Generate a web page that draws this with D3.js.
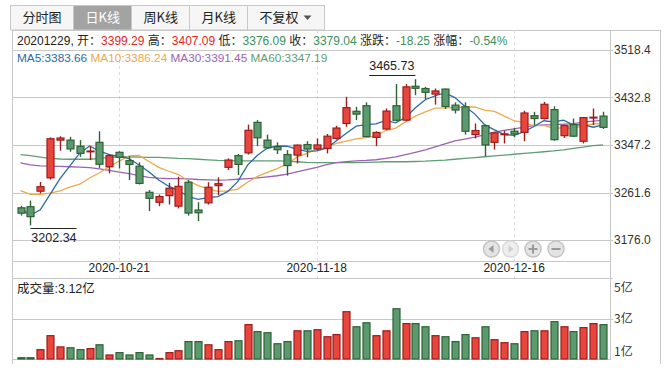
<!DOCTYPE html>
<html lang="zh">
<head>
    <meta charset="UTF-8">
    <title>日K线</title>
    <style>
        body {
            margin: 0;
            background: #fff;
        }
        svg {
            display: block;
            font-family: "Liberation Sans", Arial, "Noto Sans CJK SC", sans-serif;
        }
        .grid { stroke: #c8c8c8; stroke-width: 1; shape-rendering: crispEdges; }
        .frame { stroke: #c8c8c8; stroke-width: 1; fill: none; shape-rendering: crispEdges; }
        .axis-label { font-size: 12px; fill: #333; }
    </style>
    <script src="https://d3js.org/d3.v7.min.js"></script>
</head>
<body>
<svg width="670" height="373"></svg>

<script>
    // 交易日
    const dates = [
        "2020-09-29", "2020-09-30", "2020-10-09", "2020-10-12", "2020-10-13", "2020-10-14", "2020-10-15", "2020-10-16",
        "2020-10-19", "2020-10-20", "2020-10-21", "2020-10-22", "2020-10-23", "2020-10-26", "2020-10-27", "2020-10-28",
        "2020-10-29", "2020-10-30", "2020-11-02", "2020-11-03", "2020-11-04", "2020-11-05", "2020-11-06", "2020-11-09",
        "2020-11-10", "2020-11-11", "2020-11-12", "2020-11-13", "2020-11-16", "2020-11-17", "2020-11-18", "2020-11-19",
        "2020-11-20", "2020-11-23", "2020-11-24", "2020-11-25", "2020-11-26", "2020-11-27", "2020-11-30", "2020-12-01",
        "2020-12-02", "2020-12-03", "2020-12-04", "2020-12-07", "2020-12-08", "2020-12-09", "2020-12-10", "2020-12-11",
        "2020-12-14", "2020-12-15", "2020-12-16", "2020-12-17", "2020-12-18", "2020-12-21", "2020-12-22", "2020-12-23",
        "2020-12-24", "2020-12-25", "2020-12-28", "2020-12-29"
    ];

    const open = [
        3234.0, 3236.0, 3264.0, 3288.0, 3356.0, 3356.0, 3345.0, 3336.0, 3352.0, 3308.0,
        3334.0, 3319.0, 3309.0, 3262.0, 3244.0, 3256.0, 3237.0, 3280.0, 3230.0, 3243.0,
        3274.0, 3307.0, 3328.0, 3333.0, 3388.0, 3356.0, 3344.0, 3330.0, 3329.0, 3348.0,
        3340.0, 3341.0, 3359.0, 3386.0, 3408.0, 3418.0, 3361.0, 3376.0, 3418.0, 3392.0,
        3453.0, 3449.0, 3439.0, 3448.0, 3419.0, 3416.0, 3366.0, 3382.0, 3352.0, 3366.0,
        3372.0, 3370.0, 3400.0, 3395.0, 3411.0, 3364.0, 3384.0, 3354.0, 3396.0, 3399.29
    ];
    const high = [
        3237.5, 3247.0, 3280.5, 3361.0, 3363.0, 3362.0, 3356.0, 3345.0, 3372.0, 3331.0,
        3336.0, 3327.0, 3316.0, 3266.0, 3258.0, 3279.0, 3290.0, 3284.0, 3244.0, 3280.0,
        3289.0, 3323.0, 3331.0, 3384.0, 3392.0, 3366.0, 3352.0, 3338.0, 3348.0, 3354.0,
        3359.0, 3367.0, 3382.0, 3434.0, 3416.0, 3424.0, 3372.0, 3413.0, 3457.0, 3457.0,
        3465.73, 3452.0, 3449.0, 3449.0, 3424.0, 3424.0, 3386.0, 3384.0, 3370.0, 3373.0,
        3378.0, 3409.0, 3407.0, 3425.0, 3417.0, 3384.0, 3395.0, 3397.0, 3413.0, 3407.09
    ];
    const low = [
        3220.0, 3202.34, 3260.0, 3285.0, 3337.0, 3335.0, 3326.0, 3320.0, 3306.0, 3296.0,
        3305.0, 3284.0, 3276.0, 3228.0, 3237.0, 3240.0, 3233.0, 3220.0, 3210.0, 3240.0,
        3257.0, 3302.0, 3293.0, 3330.0, 3345.0, 3340.0, 3331.0, 3292.0, 3314.0, 3325.0,
        3338.0, 3332.0, 3357.0, 3380.0, 3392.0, 3362.0, 3345.0, 3374.0, 3390.0, 3390.0,
        3437.0, 3430.0, 3420.0, 3412.0, 3404.0, 3366.0, 3359.0, 3327.0, 3339.0, 3350.0,
        3361.0, 3354.0, 3383.0, 3393.0, 3355.0, 3360.0, 3362.0, 3350.0, 3383.0, 3376.09
    ];
    const close = [
        3224.36, 3218.05, 3272.08, 3358.47, 3359.75, 3340.16, 3332.18, 3336.36, 3312.50, 3328.10,
        3325.03, 3312.16, 3278.00, 3251.12, 3254.32, 3269.24, 3272.74, 3224.53, 3225.12, 3271.07,
        3277.44, 3320.13, 3312.16, 3373.73, 3360.15, 3342.20, 3338.68, 3310.10, 3346.97, 3339.90,
        3347.30, 3363.09, 3377.73, 3414.49, 3402.82, 3362.33, 3369.73, 3408.31, 3391.76, 3451.94,
        3449.38, 3442.14, 3444.58, 3416.60, 3410.18, 3371.96, 3373.28, 3347.19, 3369.12, 3367.23,
        3366.98, 3404.87, 3394.90, 3420.57, 3356.78, 3382.32, 3363.11, 3396.56, 3397.29, 3379.04
    ];

    // 成交量（亿）
    const volume = [
        1.56, 1.56, 1.94, 2.60, 2.07, 2.03, 1.94, 1.99, 2.17, 1.69,
        1.80, 1.69, 1.80, 1.69, 1.52, 1.80, 1.89, 2.32, 2.32, 2.17,
        1.94, 2.32, 2.36, 3.12, 2.79, 2.74, 2.22, 2.32, 2.83, 2.83,
        2.88, 2.55, 2.65, 3.73, 3.02, 3.21, 2.60, 2.83, 3.87, 3.17,
        3.17, 3.02, 2.60, 2.55, 2.32, 2.65, 2.50, 3.02, 2.41, 2.27,
        2.22, 2.79, 2.83, 2.83, 3.26, 3.02, 2.79, 2.98, 3.17, 3.12
    ];

    const ma5 = [
        3232.84, 3220.51, 3230.29, 3258.10, 3286.54, 3309.70, 3332.53, 3345.38, 3336.19, 3329.86,
        3326.83, 3322.83, 3311.16, 3298.88, 3284.13, 3272.97, 3265.08, 3254.39, 3249.19, 3252.54,
        3254.18, 3263.66, 3281.18, 3310.91, 3328.72, 3341.67, 3345.38, 3344.97, 3339.62, 3335.57,
        3336.59, 3341.47, 3355.00, 3368.50, 3381.09, 3384.09, 3385.42, 3391.54, 3386.99, 3396.81,
        3414.22, 3428.71, 3435.96, 3440.93, 3432.58, 3417.09, 3403.32, 3383.84, 3374.35, 3365.76,
        3364.76, 3371.08, 3380.62, 3390.91, 3388.82, 3391.89, 3383.54, 3383.87, 3379.21, 3383.66
    ];
    const ma10 = [
        3264.79, 3258.20, 3258.37, 3260.40, 3264.69, 3271.27, 3276.52, 3287.84, 3297.14, 3308.20,
        3318.27, 3327.68, 3328.27, 3317.54, 3306.99, 3299.90, 3293.96, 3282.77, 3274.04, 3268.33,
        3263.57, 3264.37, 3267.79, 3280.05, 3290.63, 3297.93, 3304.52, 3313.08, 3325.26, 3332.15,
        3339.13, 3343.43, 3349.99, 3354.06, 3358.33, 3360.34, 3363.45, 3373.27, 3377.75, 3388.95,
        3399.16, 3407.06, 3413.75, 3413.96, 3414.70, 3415.66, 3416.01, 3409.90, 3407.64, 3399.17,
        3390.93, 3387.20, 3382.23, 3382.63, 3377.29, 3378.32, 3377.31, 3382.24, 3385.06, 3386.24
    ];
    const ma30 = [
        3315.0, 3311.5, 3309.5, 3309.0, 3308.5, 3308.0, 3307.5, 3306.5, 3304.0, 3301.5,
        3298.5, 3295.5, 3292.0, 3289.0, 3287.5, 3286.5, 3286.5, 3286.0, 3285.0, 3284.5,
        3284.0, 3284.5, 3285.5, 3286.5, 3287.8, 3289.9, 3291.8, 3294.6, 3298.8, 3302.89,
        3306.99, 3311.83, 3315.35, 3317.22, 3318.65, 3319.39, 3320.64, 3323.04, 3325.68, 3329.81,
        3333.95, 3338.29, 3343.84, 3349.36, 3354.55, 3357.98, 3361.33, 3365.42, 3370.22, 3373.42,
        3376.41, 3379.23, 3381.99, 3383.55, 3383.44, 3384.77, 3385.59, 3388.47, 3390.15, 3391.45
    ];
    const ma60 = [
        3330.0, 3328.0, 3325.5, 3323.0, 3322.0, 3321.5, 3321.5, 3321.5, 3323.0, 3325.0,
        3326.0, 3326.0, 3325.5, 3325.0, 3325.0, 3324.0, 3323.0, 3322.5, 3321.5, 3320.5,
        3319.5, 3319.0, 3318.5, 3318.5, 3318.5, 3318.5, 3318.5, 3318.0, 3317.0, 3316.0,
        3315.5, 3315.5, 3315.5, 3315.5, 3315.5, 3316.0, 3316.5, 3317.0, 3317.0, 3317.0,
        3317.5, 3318.0, 3319.0, 3320.0, 3321.5, 3323.0, 3324.5, 3326.0, 3327.5, 3329.0,
        3330.5, 3332.0, 3333.5, 3335.0, 3336.5, 3338.5, 3341.0, 3343.5, 3346.0, 3347.19
    ];

    const priceTicks = [3518.4, 3432.8, 3347.2, 3261.6, 3176.0];
    const volTickLabels = ["5亿", "3亿", "1亿"];
    const dateTicks = ["2020-10-21", "2020-11-18", "2020-12-16"];
    const tabs = ["分时图", "日K线", "周K线", "月K线", "不复权"];
    const activeTab = "日K线";

    const UP = "#e8453c", UP_LINE = "#9b1d1d";
    const DOWN = "#5b9a6e", DOWN_LINE = "#2d6233";
    const TXT_UP = "#e3261f", TXT_DOWN = "#3d8f5e";
    const maLines = [
        { name: "MA5", values: ma5, color: "#2b6aa3" },
        { name: "MA10", values: ma10, color: "#eda94d" },
        { name: "MA30", values: ma30, color: "#9d62b3" },
        { name: "MA60", values: ma60, color: "#5f9e74" }
    ];

    const svg = d3.select("svg");

    // 布局
    const left = 12, right = 610, outerRight = 660;
    const infoTop = 30;
    const priceTop = 50, priceBottom = 261;
    const volTop = 278, volBottom = 359;

    const x = d3.scalePoint().domain(dates).range([20.5, 603]);
    const bodyW = 7;

    const y = d3.scaleLinear().domain([3176.0, 3518.4]).range([240, priceTop]);
    const yv = d3.scaleLinear().domain([1.5, 5.32]).range([volBottom, volTop]);

    // 选项卡
    const tabG = svg.append("g").attr("font-family", "'Noto Sans CJK SC', sans-serif").attr("font-size", 13);
    let tx = 10;
    tabs.forEach(t => {
        const g = tabG.append("g");
        const isActive = t === activeTab;
        const rect = g.append("rect")
            .attr("y", 5.5).attr("height", 24.5)
            .attr("fill", isActive ? "#a3a3a3" : "#f6f6f6")
            .attr("stroke", "#c8c8c8");
        const label = g.append("text")
            .attr("y", 18).attr("dominant-baseline", "middle")
            .attr("fill", isActive ? "#fff" : "#222")
            .text(t);
        const w = label.node().getComputedTextLength();
        const extra = t === "不复权" ? 14 : 0;
        const tabW = Math.round(w + 24 + extra);
        rect.attr("x", tx + 0.5).attr("width", tabW);
        label.attr("x", tx + 12.5);
        if (extra) {
            const ax = tx + 12.5 + w + 5;
            g.append("path")
                .attr("d", `M${ax},15.5 L${ax + 8},15.5 L${ax + 4},20 Z`)
                .attr("fill", "#555");
        }
        tx += tabW;
    });

    // 外框
    svg.append("line").attr("class", "frame").attr("x1", left).attr("x2", outerRight).attr("y1", infoTop + 0.5).attr("y2", infoTop + 0.5);
    svg.append("line").attr("class", "frame").attr("x1", left + 0.5).attr("x2", left + 0.5).attr("y1", infoTop).attr("y2", 364);
    svg.append("line").attr("class", "frame").attr("x1", right + 0.5).attr("x2", right + 0.5).attr("y1", infoTop).attr("y2", volBottom + 1);
    svg.append("line").attr("class", "frame").attr("x1", outerRight + 0.5).attr("x2", outerRight + 0.5).attr("y1", infoTop).attr("y2", 364);

    // 日期虚线
    svg.append("g").selectAll("line")
        .data(dateTicks)
        .enter().append("line")
        .attr("x1", d => Math.round(x(d)) + 0.5).attr("x2", d => Math.round(x(d)) + 0.5)
        .attr("y1", infoTop).attr("y2", volTop)
        .attr("stroke", "#dcdcdc").attr("stroke-dasharray", "3,3");

    // 价格网格和刻度
    svg.append("g").selectAll("line")
        .data(priceTicks)
        .enter().append("line")
        .attr("class", "grid")
        .attr("x1", left).attr("x2", right + 3)
        .attr("y1", d => Math.round(y(d)) + 0.5).attr("y2", d => Math.round(y(d)) + 0.5);
    svg.append("g").selectAll("text")
        .data(priceTicks)
        .enter().append("text")
        .attr("class", "axis-label")
        .attr("x", right + 4).attr("y", d => y(d) + 1)
        .attr("dominant-baseline", "middle")
        .text(d => d.toFixed(1));

    svg.append("line").attr("class", "grid").attr("x1", left).attr("x2", right)
        .attr("y1", priceBottom + 0.5).attr("y2", priceBottom + 0.5);

    // 成交量网格
    const volLines = [volTop, (volTop + volBottom) / 2, volBottom];
    svg.append("g").selectAll("line")
        .data(volLines)
        .enter().append("line")
        .attr("class", "grid")
        .attr("x1", left).attr("x2", (d, i) => i < 2 ? right + 3 : right)
        .attr("y1", d => Math.round(d) + 0.5).attr("y2", d => Math.round(d) + 0.5);
    svg.append("g").selectAll("text")
        .data(volTickLabels)
        .enter().append("text")
        .attr("class", "axis-label")
        .attr("font-family", "'Noto Sans CJK SC', sans-serif")
        .attr("x", right + 4)
        .attr("y", (d, i) => [volTop + 11, (volTop + volBottom) / 2 + 1, volBottom - 6][i])
        .attr("dominant-baseline", "middle")
        .text(d => d);

    // 日期标签
    svg.append("g").selectAll("text")
        .data(dateTicks)
        .enter().append("text")
        .attr("x", d => x(d)).attr("y", 269)
        .attr("text-anchor", "middle").attr("dominant-baseline", "middle")
        .attr("font-size", 12).attr("fill", "#222")
        .text(d => d);

    // 信息栏
    const last = dates.length - 1;
    const chg = close[last] - close[last - 1];
    const pct = chg / close[last - 1] * 100;
    const chgColor = chg >= 0 ? TXT_UP : TXT_DOWN;
    const colorOf = v => v >= close[last - 1] ? TXT_UP : TXT_DOWN;
    const infoParts = [
        [dates[last].replace(/-/g, "") + ", 开：", "#222"],
        [open[last].toFixed(2), colorOf(open[last])],
        [" 高：", "#222"],
        [high[last].toFixed(2), colorOf(high[last])],
        [" 低：", "#222"],
        [low[last].toFixed(2), colorOf(low[last])],
        [" 收：", "#222"],
        [close[last].toFixed(2), colorOf(close[last])],
        [" 涨跌：", "#222"],
        [chg.toFixed(2), chgColor],
        [" 涨幅：", "#222"],
        [pct.toFixed(2) + "%", chgColor]
    ];
    const info = svg.append("text")
        .attr("x", 17).attr("y", 42)
        .attr("dominant-baseline", "middle")
        .attr("font-size", 12)
        .attr("xml:space", "preserve");
    info.selectAll("tspan")
        .data(infoParts)
        .enter().append("tspan")
        .attr("fill", d => d[1])
        .text(d => d[0]);

    // 均线图例
    const legend = svg.append("text")
        .attr("x", 17).attr("y", 59)
        .attr("dominant-baseline", "middle")
        .attr("font-size", 11.8)
        .attr("xml:space", "preserve");
    legend.selectAll("tspan")
        .data(maLines)
        .enter().append("tspan")
        .attr("fill", d => d.color)
        .text((d, i) => (i ? " " : "") + d.name + ":" + d.values[last].toFixed(2));

    // 均线
    maLines.slice().reverse().forEach(m => {
        svg.append("path")
            .datum(m.values)
            .attr("fill", "none")
            .attr("stroke", m.color)
            .attr("stroke-width", 1.3)
            .attr("d", d3.line().x((d, i) => x(dates[i])).y(d => y(d)));
    });

    // K线
    const candles = dates.map((d, i) => ({
        date: d, o: open[i], h: high[i], l: low[i], c: close[i], v: volume[i], up: close[i] >= open[i]
    }));

    const kG = svg.append("g");
    kG.selectAll("line")
        .data(candles)
        .enter().append("line")
        .attr("x1", d => Math.round(x(d.date)) + 0.5).attr("x2", d => Math.round(x(d.date)) + 0.5)
        .attr("y1", d => y(d.h)).attr("y2", d => y(d.l))
        .attr("stroke", d => d.up ? UP_LINE : DOWN_LINE)
        .attr("stroke-width", 1.4);
    kG.selectAll("rect")
        .data(candles)
        .enter().append("rect")
        .attr("x", d => Math.round(x(d.date)) - bodyW / 2 + 0.5)
        .attr("width", bodyW)
        .attr("y", d => y(Math.max(d.o, d.c)))
        .attr("height", d => Math.max(0.8, Math.abs(y(d.o) - y(d.c))))
        .attr("fill", d => d.up ? UP : DOWN)
        .attr("stroke", d => d.up ? UP_LINE : DOWN_LINE)
        .attr("stroke-width", 1.2);

    // 最高/最低价标注
    const hiIdx = d3.maxIndex(high), loIdx = d3.minIndex(low);
    const hiX = x(dates[hiIdx]), loX = x(dates[loIdx]);
    const hiText = svg.append("text")
        .attr("x", hiX - 1).attr("y", y(high[hiIdx]) - 9)
        .attr("text-anchor", "end").attr("font-size", 12.5).attr("fill", "#222")
        .text(high[hiIdx].toFixed(2));
    const hiW = hiText.node().getComputedTextLength();
    svg.append("line")
        .attr("x1", hiX - hiW - 1).attr("x2", hiX)
        .attr("y1", Math.round(y(high[hiIdx]) - 4) + 0.5).attr("y2", Math.round(y(high[hiIdx]) - 4) + 0.5)
        .attr("stroke", "#222");
    const loText = svg.append("text")
        .attr("x", loX + 1).attr("y", y(low[loIdx]) + 17)
        .attr("font-size", 12.5).attr("fill", "#222")
        .text(low[loIdx].toFixed(2));
    const loW = loText.node().getComputedTextLength();
    svg.append("line")
        .attr("x1", loX).attr("x2", loX + loW + 1)
        .attr("y1", Math.round(y(low[loIdx]) + 3) + 0.5).attr("y2", Math.round(y(low[loIdx]) + 3) + 0.5)
        .attr("stroke", "#222");

    // 翻页按钮
    const btns = [
        { cx: 491.5, kind: "prev", on: true },
        { cx: 510.5, kind: "next", on: false },
        { cx: 533, kind: "plus", on: true },
        { cx: 556, kind: "minus", on: true }
    ];
    const by = 249;
    btns.forEach(b => {
        svg.append("circle")
            .attr("cx", b.cx).attr("cy", by).attr("r", 8)
            .attr("fill", b.on ? "#e4e4e4" : "#eeeeee")
            .attr("stroke", b.on ? "#c4c4c4" : "#dadada").attr("stroke-width", 1.5);
        const c = b.on ? "#9a9a9a" : "#d0d0d0";
        if (b.kind === "prev") {
            svg.append("path").attr("d", `M${b.cx - 3},${by} L${b.cx + 2},${by - 4} L${b.cx + 2},${by + 4} Z`).attr("fill", c);
        } else if (b.kind === "next") {
            svg.append("path").attr("d", `M${b.cx + 3},${by} L${b.cx - 2},${by - 4} L${b.cx - 2},${by + 4} Z`).attr("fill", c);
        } else {
            svg.append("line").attr("x1", b.cx - 4.5).attr("x2", b.cx + 4.5).attr("y1", by).attr("y2", by)
                .attr("stroke", c).attr("stroke-width", 2);
            if (b.kind === "plus") {
                svg.append("line").attr("x1", b.cx).attr("x2", b.cx).attr("y1", by - 4.5).attr("y2", by + 4.5)
                    .attr("stroke", c).attr("stroke-width", 2);
            }
        }
    });

    // 成交量
    svg.append("text")
        .attr("x", 17).attr("y", 290)
        .attr("dominant-baseline", "middle")
        .attr("font-size", 12.5).attr("fill", "#222")
        .text("成交量:" + volume[last].toFixed(2) + "亿");

    svg.append("g").selectAll("rect")
        .data(candles)
        .enter().append("rect")
        .attr("x", d => Math.round(x(d.date)) - bodyW / 2 + 0.5)
        .attr("width", bodyW)
        .attr("y", d => yv(d.v))
        .attr("height", d => Math.max(0.5, volBottom - yv(d.v)))
        .attr("fill", d => d.up ? UP : DOWN)
        .attr("stroke", d => d.up ? UP_LINE : DOWN_LINE)
        .attr("stroke-width", 1.2);
</script>
</body>
</html>
